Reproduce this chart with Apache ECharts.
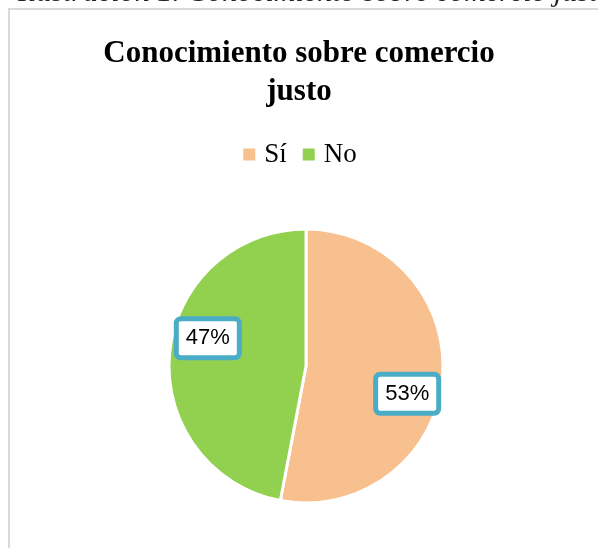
<!DOCTYPE html>
<html>
<head>
<meta charset="utf-8">
<script src="https://cdn.jsdelivr.net/npm/echarts@6/dist/echarts.min.js"></script>
<style>
    html, body { margin: 0; padding: 0; background: #fff; }
    #main { width: 598px; height: 548px; }
</style>
</head>
<body>
<div id="main"></div>
<script>
var categories = ['Sí', 'No'];
var values = [53, 47];
var sliceColors = ['#F8BF8F', '#92D050'];
// offsets from the 'inside' label spot, Excel put the boxes further out
var labelOffsets = [[30, 21], [-27, -21]];

var myChart = echarts.init(document.getElementById('main'));

var pieData = [];
for (var i = 0; i < categories.length; i++) {
    pieData.push({
        name: categories[i],
        value: values[i],
        itemStyle: { color: sliceColors[i] },
        label: { offset: labelOffsets[i] }
    });
}

var option = {
    backgroundColor: '#fff',
    animation: false,
    title: {
        text: 'Conocimiento sobre comercio\njusto',
        left: 'center',
        top: 30,
        textStyle: {
            fontFamily: 'Liberation Serif',
            fontWeight: 'bold',
            fontSize: 31,
            lineHeight: 38,
            color: '#000'
        }
    },
    legend: {
        top: 136,
        left: 'center',
        icon: 'rect',
        itemWidth: 14,
        itemHeight: 14,
        itemGap: 14,
        data: categories,
        textStyle: {
            fontFamily: 'Liberation Serif',
            fontSize: 27,
            padding: [0, 0, 0, 3],
            color: '#000'
        }
    },
    graphic: [
        {
            type: 'rect',
            shape: { x: 9, y: 9, width: 700, height: 700 },
            style: { fill: 'none', stroke: '#d9d9d9', lineWidth: 2 },
            silent: true
        },
        {
            type: 'text',
            left: 18,
            top: -22,
            style: {
                text: 'Ilustración 1. Conocimiento sobre comercio justo',
                fontFamily: 'Liberation Serif',
                fontStyle: 'italic',
                fontSize: 30,
                fill: '#222'
            },
            silent: true
        }
    ],
    series: [
        {
            type: 'pie',
            center: [306, 366],
            radius: 137,
            startAngle: 90,
            clockwise: true,
            itemStyle: {
                borderColor: '#fff',
                borderWidth: 3
            },
            label: {
                show: true,
                position: 'inside',
                formatter: '{d}%',
                fontFamily: 'Liberation Sans',
                fontSize: 22,
                lineHeight: 22,
                color: '#000',
                backgroundColor: '#fff',
                borderColor: '#4BACC6',
                borderWidth: 5,
                borderRadius: 2,
                padding: [6, 7]
            },
            labelLine: { show: false },
            data: pieData
        }
    ]
};
myChart.setOption(option);
</script>
</body>
</html>
